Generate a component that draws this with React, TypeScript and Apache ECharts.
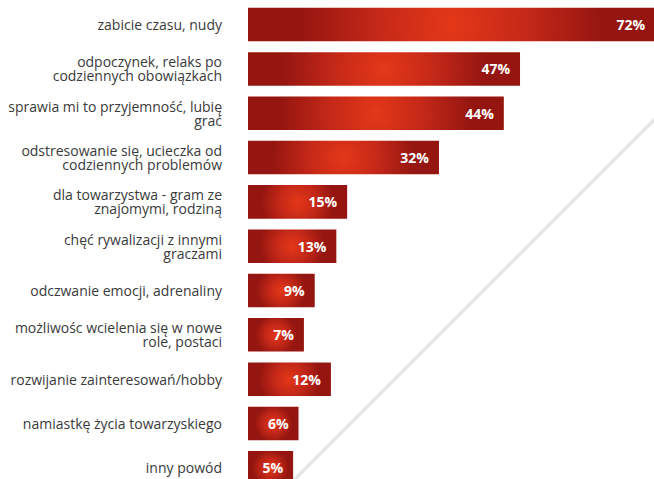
import React, { useEffect, useRef } from "react";
import * as echarts from "echarts";

const categories: string[] = [
  "zabicie czasu, nudy",
  "odpoczynek, relaks po\ncodziennych obowiązkach",
  "sprawia mi to przyjemność, lubię\ngrać",
  "odstresowanie się, ucieczka od\ncodziennych problemów",
  "dla towarzystwa - gram ze\nznajomymi, rodziną",
  "chęć rywalizacji z innymi\ngraczami",
  "odczwanie emocji, adrenaliny",
  "możliwośc wcielenia się w nowe\nrole, postaci",
  "rozwijanie zainteresowań/hobby",
  "namiastkę życia towarzyskiego",
  "inny powód",
];

const values: number[] = [72, 47, 44, 32, 15, 13, 9, 7, 12, 6, 5];

const AXIS_MIN = -3.35;
const AXIS_MAX = 75.5;

export default function App() {
  const ref = useRef<HTMLDivElement>(null);

  useEffect(() => {
    if (!ref.current) return;
    const chart = echarts.init(ref.current, undefined, { renderer: "svg" });

    const renderItem = (params: any, api: any) => {
      const v = api.value(0);
      const i = api.value(1);
      const start = api.coord([AXIS_MIN, i]);
      const end = api.coord([v, i]);
      const band = api.size([0, 1])[1];
      const h = band * 0.756;
      const x0 = start[0];
      const w = end[0] - x0;
      const y0 = end[1] - h / 2;
      const cx = x0 + w / 2;
      const cy = end[1];
      const r = Math.max(w * 0.37, 18);
      const fill = new echarts.graphic.RadialGradient(
        cx,
        cy,
        r,
        [
          { offset: 0, color: "#e43818" },
          { offset: 0.5, color: "#c42818" },
          { offset: 1, color: "#951610" },
        ],
        true
      );
      return {
        type: "rect",
        shape: { x: x0, y: y0, width: w, height: h },
        style: { fill },
        textContent: {
          style: {
            text: v + "%",
            fill: "#ffffff",
            fontFamily: "Open Sans",
            fontWeight: "bold",
            fontSize: 14,
          },
        },
        textConfig: { position: "insideRight", distance: 10 },
      };
    };

    chart.setOption({
      animation: false,
      backgroundColor: "#ffffff",
      grid: { left: 248, top: 2.4, width: 426, height: 487.6, containLabel: false },
      xAxis: {
        type: "value",
        min: AXIS_MIN,
        max: AXIS_MAX,
        show: false,
        splitLine: { show: false },
      },
      yAxis: {
        type: "category",
        data: categories,
        inverse: true,
        axisLine: { show: false },
        axisTick: { show: false },
        splitLine: { show: false },
        axisLabel: {
          fontFamily: "Open Sans",
          fontSize: 14,
          color: "#3a3a3a",
          lineHeight: 14,
          margin: 26,
          align: "right",
        },
      },
      graphic: [
        {
          type: "line",
          z: -10,
          silent: true,
          shape: { x1: 292, y1: 482, x2: 662, y2: 112 },
          style: { stroke: "#e6e6e6", lineWidth: 3.6 },
        },
      ],
      series: [
        {
          type: "custom",
          renderItem,
          encode: { x: 0, y: 1 },
          data: values.map((v, i) => [v, i]),
          z: 5,
        },
      ],
    });

    return () => chart.dispose();
  }, []);

  return (
    <div
      style={{
        position: "absolute",
        left: 0,
        top: 0,
        width: 654,
        height: 479,
        overflow: "hidden",
      }}
    >
      <div ref={ref} style={{ width: 680, height: 495 }} />
    </div>
  );
}
